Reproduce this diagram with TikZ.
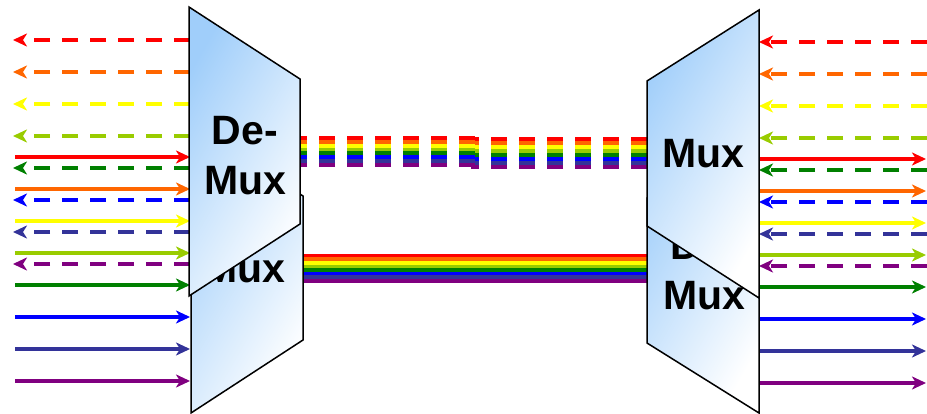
\documentclass[tikz,border=0pt]{standalone}
\usepackage{fontspec}
\setmainfont{Liberation Sans}
\usetikzlibrary{arrows.meta}
\definecolor{cRed}{RGB}{255,0,0}
\definecolor{cOrange}{RGB}{255,102,0}
\definecolor{cYellow}{RGB}{255,255,0}
\definecolor{cLime}{RGB}{153,204,0}
\definecolor{cGreen}{RGB}{0,128,0}
\definecolor{cBlue}{RGB}{0,0,255}
\definecolor{cIndigo}{RGB}{51,51,153}
\definecolor{cPurple}{RGB}{128,0,128}
\definecolor{boxblue}{RGB}{160,206,250}
\tikzset{
  muxbox/.style={draw=black,line width=1.5pt,line join=miter,top color=boxblue,bottom color=white,shading angle=60},
  muxlabel/.style={font=\fontsize{41}{50}\selectfont\bfseries,align=center,inner sep=0pt},
  chan/.style={line width=3.5pt,-{Stealth[length=14pt,width=13pt,inset=4pt]}},
  chandash/.style={chan,dash pattern=on 16pt off 12pt},
  fibre/.style={line width=4pt}
}
\begin{document}
\begin{tikzpicture}[x=1pt,y=-1pt]
  \useasboundingbox (0,0) rectangle (927,414);
  \foreach \c [count=\i from 0] in {cRed,cOrange,cYellow,cLime,cGreen,cBlue,cIndigo,cPurple} {
    \draw[fibre,\c,dash pattern=on 16pt off 12pt] (475,{137.9+3.9*\i}) -- (300,{137.9+3.9*\i});
    \draw[fibre,\c,dash pattern=on 16pt off 12pt] (647,{139.4+3.9*\i}) -- (471,{139.4+3.9*\i});
    \draw[fibre,\c,line width=3.8pt] (303,{255.8+3.6*\i}) -- (647,{255.8+3.6*\i});
    \draw[chandash,\c] (190,{40+32*\i}) -- (13,{40+32*\i});
    \draw[chan,\c] (15,{157+32*\i}) -- (190,{157+32*\i});
    \draw[chandash,\c] (927,{42+32*\i}) -- (759,{42+32*\i});
    \draw[chan,\c] (759,{159+32*\i}) -- (926,{159+32*\i});
  }
  \draw[muxbox] (191,123) -- (303,196) -- (303,340) -- (191,413) -- cycle;
  \node[muxlabel,anchor=base] (muxLtext) at (244,283) {Mux};
  \draw[muxbox] (189,7) -- (300,79) -- (300,224) -- (189,296) -- cycle;
  \node[muxlabel] (demuxLtext) at (245,156) {De-\\Mux};
  \draw[muxbox] (647,198) -- (759,125) -- (759,413) -- (647,343) -- cycle;
  \node[muxlabel] (demuxRtext) at (704,271) {De-\\Mux};
  \draw[muxbox] (647,81) -- (759,10) -- (759,298) -- (647,226) -- cycle;
  \node[muxlabel,anchor=base] (muxRtext) at (703,168) {Mux};
\end{tikzpicture}
\end{document}
